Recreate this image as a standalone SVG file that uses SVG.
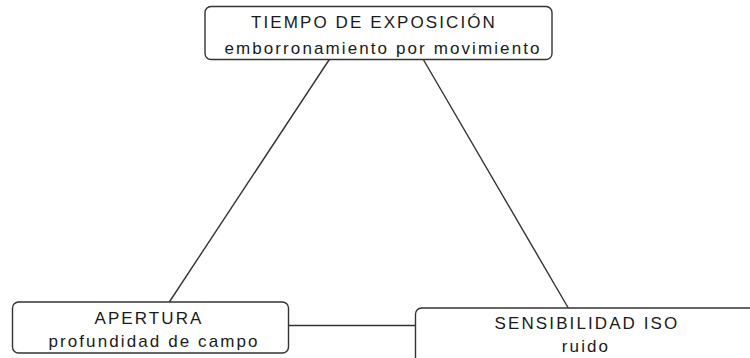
<svg xmlns="http://www.w3.org/2000/svg" width="750" height="358" viewBox="0 0 750 358">
<style>
.box{fill:#fff;stroke:#333;stroke-width:1.4}
.edge{stroke:#333;stroke-width:1.4;fill:none}
.t{font-family:"Liberation Sans",Arial,sans-serif;font-size:17px;letter-spacing:2.1px;fill:#1a1a1a;text-anchor:middle}
</style>
<rect width="750" height="358" fill="#fff"/>
<g id="connectors">
<line class="edge" x1="329.3" y1="59.5" x2="169.3" y2="302"/>
<line class="edge" x1="423.3" y1="59.5" x2="568.3" y2="308"/>
<line class="edge" x1="288.5" y1="325.5" x2="415.5" y2="325.5"/>
</g>
<g id="tiempo">
<rect class="box" x="205" y="6.5" width="347" height="53" rx="6"/>
<text class="t" x="374" y="27.5">TIEMPO DE EXPOSICIÓN</text>
<text class="t" x="383" y="53.5">emborronamiento por movimiento</text>
</g>
<g id="apertura">
<rect class="box" x="12.5" y="302" width="276" height="51" rx="6"/>
<text class="t" x="149" y="323.5">APERTURA</text>
<text class="t" x="154" y="347">profundidad de campo</text>
</g>
<g id="sensibilidad">
<rect class="box" x="415.5" y="308" width="350" height="60" rx="6"/>
<text class="t" x="587" y="328.5">SENSIBILIDAD ISO</text>
<text class="t" x="586" y="352">ruido</text>
</g>
</svg>
